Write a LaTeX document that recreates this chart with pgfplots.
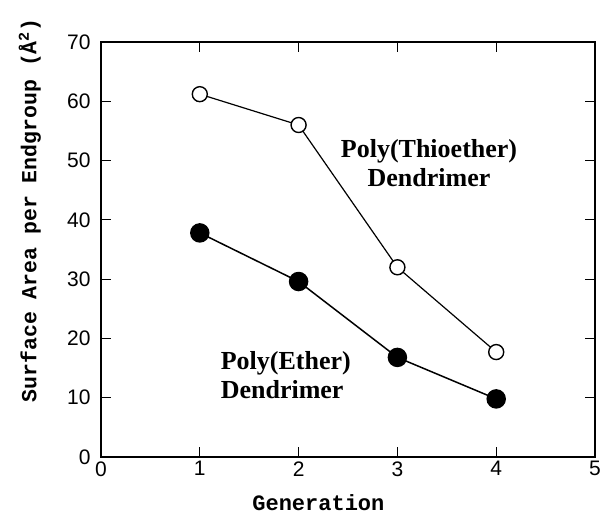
\documentclass[border=0pt]{standalone}
\usepackage{fontspec}
\setmainfont{Liberation Sans}
\newfontfamily\labelfont{Liberation Mono}
\newfontfamily\notefont{Liberation Serif}
\usepackage{pgfplots}
\pgfplotsset{compat=1.18}

\begin{document}
\begin{tikzpicture}
\begin{axis}[
    scale only axis,
    width=494pt,
    height=415pt,
    xmin=0, xmax=5,
    ymin=0, ymax=70,
    xtick={0,1,2,3,4,5},
    ytick={0,10,20,30,40,50,60,70},
    xtick pos=both, ytick pos=both,
    tick align=inside,
    major tick length=10pt,
    every tick/.style={black, line width=1pt},
    axis line style={line width=1.2pt},
    ticklabel style={font=\fontsize{21}{23}\selectfont},
    /pgf/number format/assume math mode=true,
    xticklabel style={yshift=-1pt},
    yticklabel style={xshift=-7pt},
    xlabel={\labelfont\bfseries Generation},
    ylabel={\labelfont\bfseries Surface Area per Endgroup (Å\textsuperscript{2})},
    xlabel style={font=\fontsize{22}{24}\selectfont,
        at={(axis description cs:0.44,-0.111)}, anchor=center},
    ylabel style={font=\fontsize{21.5}{23}\selectfont,
        at={(axis description cs:-0.144,0.594)}, anchor=center},
    clip=false,
]
    % Poly(Thioether) dendrimer, open circles
    \addplot[black, line width=1.2pt, mark=*, mark size=7.5pt,
        mark options={fill=white, line width=1.4pt}] coordinates {
        (1, 61.2) (2, 56.0) (3, 32.0) (4, 17.7)
    };
    % Poly(Ether) dendrimer, filled circles
    \addplot[black, line width=1.5pt, mark=*, mark size=9pt,
        mark options={fill=black}] coordinates {
        (1, 37.8) (2, 29.6) (3, 16.8) (4, 9.8)
    };
    \node[font=\notefont\bfseries\fontsize{26}{29}\selectfont, align=center]
        at (axis cs:3.32,49.5) {Poly(Thioether)\\Dendrimer};
    \node[font=\notefont\bfseries\fontsize{26}{29}\selectfont, align=left]
        at (axis cs:1.87,13.8) {Poly(Ether)\\Dendrimer};
\end{axis}
\path ([xshift=-101pt,yshift=-56pt]current axis.south west)
    rectangle ([xshift=13pt,yshift=42pt]current axis.north east);
\end{tikzpicture}
\end{document}
